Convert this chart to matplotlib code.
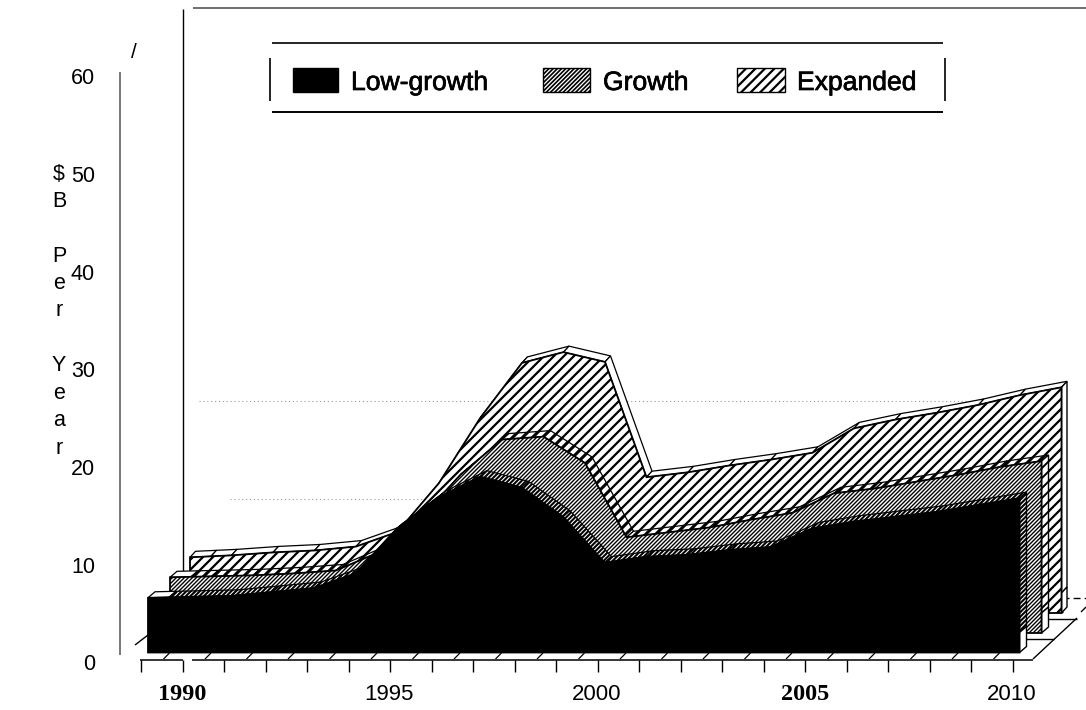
import numpy as np
import matplotlib
matplotlib.use('Agg')
from matplotlib import pyplot as plt
from matplotlib import patheffects
from matplotlib.collections import LineCollection
from matplotlib.patches import Polygon
from matplotlib.transforms import Affine2D, IdentityTransform, blended_transform_factory

W, H = 1086, 710

years = list(range(1989, 2011))
low_growth = [5.6, 5.7, 5.8, 6.2, 6.6, 8.1, 12.7, 15.9, 18.0, 16.9, 13.9,
              9.2, 9.8, 10.0, 10.5, 10.8, 12.7, 13.4, 13.9, 14.4, 15.1, 15.8]
growth = [5.7, 5.8, 5.9, 6.1, 6.4, 8.2, 11.6, 16.2, 19.8, 20.1, 17.4,
          9.8, 10.3, 10.8, 11.6, 12.3, 14.3, 14.8, 15.5, 16.2, 17.0, 17.6]
expanded = [5.7, 5.9, 6.2, 6.4, 6.8, 8.3, 13.3, 20.0, 25.6, 26.7, 25.7,
            13.9, 14.4, 15.1, 15.7, 16.4, 18.9, 19.8, 20.5, 21.3, 22.3, 23.1]

y_ticks = [0, 10, 20, 30, 40, 50, 60]
x_labels = [1990, 1995, 2000, 2005, 2010]
bold_years = [1990, 2005]
legend_names = ['Low-growth', 'Growth', 'Expanded']
grid_values = [20, 30]
grid_starts = [1991.15, 1990.4]

px_x = 41.5
px_y = 9.77
x0, y0 = 182.5, 663

plt.rcParams['font.family'] = ['Liberation Sans', 'DejaVu Sans']
fig = plt.figure(figsize=(W / 100, H / 100), dpi=100)
ax = fig.add_axes([0, 0, 1, 1])
ax.set_xlim(1990 - x0 / px_x, 1990 + (W - x0) / px_x)
ax.set_ylim(-(H - y0) / px_y, y0 / px_y)
ax.axis('off')

# pixel coordinates measured from the top left, for the furniture of the chart
px = Affine2D().scale(1, -1).translate(0, H)
x_px = blended_transform_factory(ax.transData, px)


def line(xs, ys, **kw):
    kw.setdefault('color', 'black')
    kw.setdefault('lw', 1)
    kw.setdefault('solid_capstyle', 'butt')
    ax.plot(xs, ys, transform=px, **kw)


def shape(points, face='white', edge='black', lw=1.0, spacing=None, hatch_lw=1.0, z=2):
    # polygon in display pixels, with 45 degree hatch lines clipped to it
    patch = Polygon(points, closed=True, facecolor=face, edgecolor=edge, lw=lw,
                    transform=IdentityTransform(), zorder=z)
    ax.add_patch(patch)
    if spacing:
        pts = np.asarray(points)
        diff = pts[:, 0] - pts[:, 1]
        span = pts[:, 0].max() - pts[:, 0].min() + pts[:, 1].max() - pts[:, 1].min()
        # phase fixed to the page so neighbouring quads line up
        first = np.floor(diff.min() / spacing) * spacing
        segs = []
        for c in np.arange(first, diff.max() + spacing, spacing):
            xa = pts[:, 0].min() - 5
            segs.append([(xa, xa - c), (xa + span + 10, xa + span + 10 - c)])
        hatch = LineCollection(segs, colors='black', linewidths=hatch_lw,
                               transform=IdentityTransform(), zorder=z)
        ax.add_collection(hatch, autolim=False)
        hatch.set_clip_path(patch)


def layer(values, dx, dy, depth_x, face, face_sp, face_lw, rib_sp, rib_lw, side_sp, side_lw, z):
    tr = ax.transData + Affine2D().translate(dx, dy)
    top = tr.transform(np.column_stack([years, values]))
    base = tr.transform([(years[0], 0), (years[-1], 0)])
    depth = np.array([depth_x, 6])

    # top ribbon, the start of it is plain where the next block is not behind
    a, b = top[0], top[1]
    m = a + (b - a) * 21 / px_x
    shape([a, m, m + depth, a + depth], lw=0.9, z=z)
    shape([m, b, b + depth, m + depth], lw=0.9, spacing=rib_sp, hatch_lw=rib_lw, z=z)
    for a, b in zip(top[1:-1], top[2:]):
        shape([a, b, b + depth, a + depth], lw=0.9, spacing=rib_sp, hatch_lw=rib_lw, z=z)

    # right side of the block, hatched only down to the floor of the next block
    stop = base[1] + np.array([0, 20])
    shape([top[-1], top[-1] + depth, stop + depth, stop], lw=1.0,
          spacing=side_sp, hatch_lw=side_lw, z=z)
    shape([stop, stop + depth, base[1] + depth, base[1]], lw=1.0, z=z)

    # front face
    shape([base[0], *top, base[1]], face=face, lw=1.3, spacing=face_sp,
          hatch_lw=face_lw, z=z + 0.5)


# back wall
line([182.7, 182.7], [9, 580])
line([193, W], [8, 8], color='#555555', lw=1.2)
line([120, 120], [72, 655], color='#777777', lw=1.4)
for g, start in zip(grid_values, grid_starts):
    ax.plot([start, 2010.5], [g, g], color='#999999', lw=0.8, ls=(0, (1, 2.5)),
            transform=ax.transData + Affine2D().translate(0, -31.5))

# floor
ax.vlines(years, 660, 672, colors='black', lw=1, transform=x_px)
line([140, 183], [660, 660], lw=1.1)
line([192, 1033], [660, 660], lw=1.1)
line([1033, 1077], [659, 618], lw=1)
line([1081, W], [612, 607], lw=1)
line([135, 148], [645, 635], lw=1)
line([1020, 1054], [639, 639], lw=1)
line([1048, 1077], [619, 619], lw=1)
line([1040, 1063], [612, 612], lw=1)
line([1062, W], [598, 598], lw=1, ls=(0, (5, 3)))
for yr in years[1:]:
    xp = x0 + (yr - 1990) * px_x - 19
    line([xp, xp + 6], [659, 653], lw=0.9)

layer(expanded, 49, 50, 5.5, 'white', 10, 1.6, None, 0, None, 0, 3)
layer(growth, 29, 30, 7, 'white', 4, 1.0, 10, 2.2, 10, 1.4, 4)
layer(low_growth, 7, 10.5, 7, 'black', None, 0, 4.5, 1.5, 4.5, 1.5, 5)

# y axis
for v in y_ticks:
    ax.text(95, y0 + 2 - v * px_y, str(v), transform=px, ha='right', va='center',
            fontsize=15.5, zorder=8)
ax.text(134, 52, '/', transform=px, ha='center', va='center', fontsize=15)
ax.text(59, 311, '$\nB\n\nP\ne\nr\n\nY\ne\na\nr', transform=px, ha='center', va='center',
        fontsize=15.5, linespacing=1.4, parse_math=False)

# x axis
for yr in x_labels:
    if yr in bold_years:
        ax.text(yr, 695, str(yr), transform=x_px, ha='center', va='center',
                fontsize=17.5, family='Liberation Serif', weight='bold')
    else:
        ax.text(yr - 1 / px_x, 695, str(yr), transform=x_px, ha='center', va='center', fontsize=16)

# legend box
line([272, 943], [42.5, 42.5], lw=1.2)
line([272, 943], [111.5, 111.5], lw=1.4)
line([270, 270], [58, 101], lw=1.2)
line([945, 945], [58, 101], lw=1.2)

swatch_x = [293, 543, 737]
swatch_w = [45, 47, 48]
swatch_face = ['black', 'white', 'white']
swatch_sp = [None, 4.2, 9.5]
swatch_lw = [0, 1.2, 1.6]
text_x = [351, 603, 797]
heavy = [patheffects.withStroke(linewidth=0.5, foreground='black')]
for name, sx, sw, sf, ss, sl, tx in zip(legend_names, swatch_x, swatch_w, swatch_face,
                                        swatch_sp, swatch_lw, text_x):
    corners = px.transform([(sx, 67.5), (sx + sw, 67.5), (sx + sw, 92), (sx, 92)])
    shape(corners, face=sf, lw=1.0, spacing=ss, hatch_lw=sl, z=6)
    ax.text(tx, 83, name, transform=px, ha='left', va='center', fontsize=19.1, zorder=8,
            path_effects=heavy)

fig.savefig('out.png', dpi=100)
